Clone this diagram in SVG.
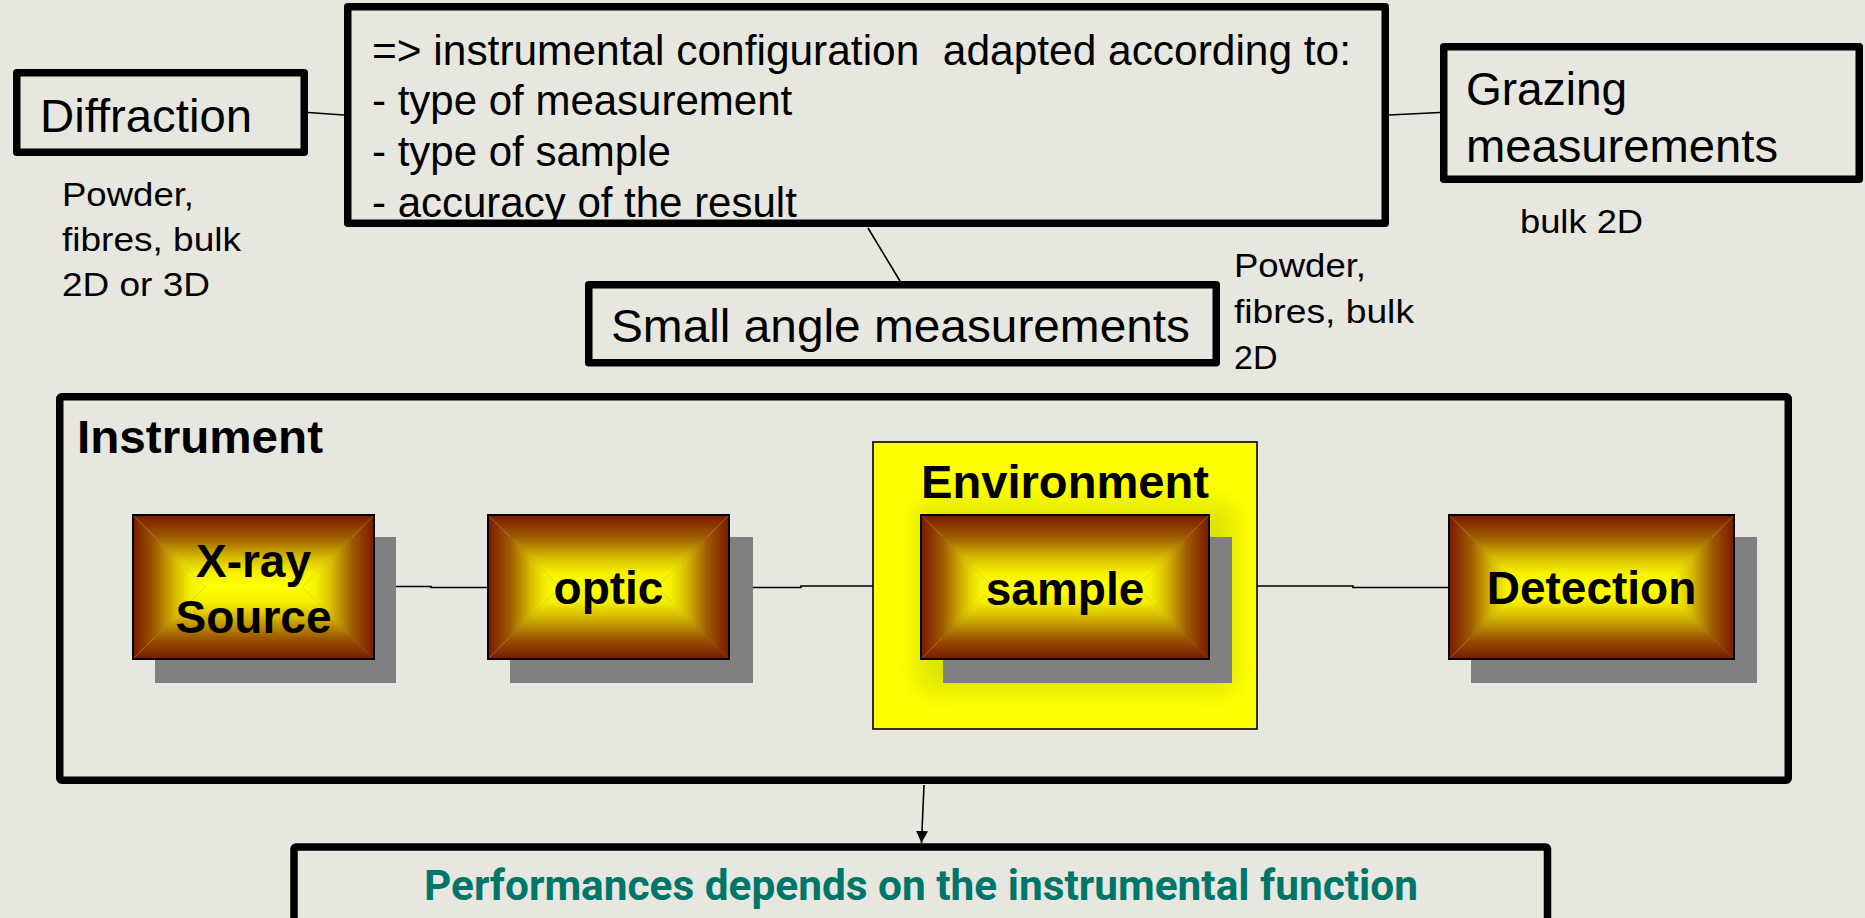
<svg xmlns="http://www.w3.org/2000/svg" width="1865" height="918" viewBox="0 0 1865 918">
<defs>
<style>
.frame{fill:none;stroke:#000;stroke-width:7.5;stroke-linejoin:round}
.t{font-family:"Liberation Sans",Arial,sans-serif;fill:#000}
.big{font-size:46px}
.mid{font-size:42px}
.small{font-size:34px}
.bold{font-family:"Liberation Sans",Arial,sans-serif;font-weight:bold;font-size:46px;fill:#000;text-anchor:middle}
.conn{fill:none;stroke:#000;stroke-width:1.6}
.shadow{fill:#808080}
.edge{fill:none;stroke:#000;stroke-width:2}
</style>
<linearGradient id="gT" x1="0" y1="0" x2="0" y2="1">
<stop offset="0" stop-color="#7A1800"/><stop offset="0.3" stop-color="#9E5A00"/><stop offset="0.6" stop-color="#D8BE00"/><stop offset="0.8" stop-color="#F6F000"/><stop offset="1" stop-color="#FFFF00"/>
</linearGradient>
<linearGradient id="gB" x1="0" y1="1" x2="0" y2="0">
<stop offset="0" stop-color="#7A1800"/><stop offset="0.3" stop-color="#9E5A00"/><stop offset="0.6" stop-color="#D8BE00"/><stop offset="0.8" stop-color="#F6F000"/><stop offset="1" stop-color="#FFFF00"/>
</linearGradient>
<linearGradient id="gL" x1="0" y1="0" x2="1" y2="0">
<stop offset="0" stop-color="#7A1800"/><stop offset="0.3" stop-color="#9E5A00"/><stop offset="0.6" stop-color="#D8BE00"/><stop offset="0.8" stop-color="#F6F000"/><stop offset="1" stop-color="#FFFF00"/>
</linearGradient>
<linearGradient id="gR" x1="1" y1="0" x2="0" y2="0">
<stop offset="0" stop-color="#7A1800"/><stop offset="0.3" stop-color="#9E5A00"/><stop offset="0.6" stop-color="#D8BE00"/><stop offset="0.8" stop-color="#F6F000"/><stop offset="1" stop-color="#FFFF00"/>
</linearGradient>
<filter id="blur" x="-30%" y="-30%" width="160%" height="160%"><feGaussianBlur stdDeviation="14"/></filter>
<clipPath id="envclip"><rect x="873" y="442" width="384" height="287"/></clipPath>
<marker id="arrow" viewBox="0 0 10 10" refX="10" refY="5" markerWidth="12" markerHeight="12" markerUnits="userSpaceOnUse" orient="auto">
<path d="M0,0 L10,5 L0,10 Z" fill="#000"/>
</marker>
</defs>
<rect width="1865" height="918" fill="#E7E6DF"/>

<g id="connectors">
<line class="conn" x1="308" y1="112.5" x2="344" y2="115"/>
<line class="conn" x1="1389" y1="115" x2="1440" y2="112.5"/>
<line class="conn" x1="868" y1="228" x2="900" y2="281"/>
<polyline class="conn" points="374,586.5 431,586.5 431,587.5 488,587.5"/>
<polyline class="conn" points="729,587.5 801,587.5 801,586 873,586"/>
<polyline class="conn" points="1257,586 1353,586 1353,587.5 1449,587.5"/>
<line class="conn" x1="924" y1="785" x2="921.5" y2="843" stroke-width="2" marker-end="url(#arrow)"/>
</g>

<g id="diffraction">
<rect class="frame" x="16.75" y="72.75" width="287.5" height="79.5"/>
<text class="t big" x="40" y="132" textLength="212" lengthAdjust="spacingAndGlyphs">Diffraction</text>
</g>

<g id="diffraction-samples">
<text class="t small" x="62" y="206" textLength="132" lengthAdjust="spacingAndGlyphs">Powder,</text>
<text class="t small" x="62" y="251" textLength="179" lengthAdjust="spacingAndGlyphs">fibres, bulk</text>
<text class="t small" x="62" y="296" textLength="148" lengthAdjust="spacingAndGlyphs">2D or 3D</text>
</g>

<g id="configuration">
<text class="t mid" x="372" y="65" textLength="979" lengthAdjust="spacingAndGlyphs" xml:space="preserve">=&gt; instrumental configuration  adapted according to:</text>
<text class="t mid" x="372" y="115">- type of measurement</text>
<text class="t mid" x="372" y="166">- type of sample</text>
<text class="t mid" x="372" y="217">- accuracy of the result</text>
<rect class="frame" x="347.75" y="6.75" width="1037.5" height="216.5"/>
</g>

<g id="grazing">
<rect class="frame" x="1443.75" y="46.75" width="415.5" height="132.5"/>
<text class="t big" x="1466" y="105">Grazing</text>
<text class="t big" x="1466" y="162" textLength="312" lengthAdjust="spacingAndGlyphs">measurements</text>
</g>

<g id="grazing-samples">
<text class="t small" x="1520" y="233" textLength="123" lengthAdjust="spacingAndGlyphs">bulk 2D</text>
</g>

<g id="small-angle">
<rect class="frame" x="588.75" y="284.75" width="627.5" height="78"/>
<text class="t big" x="611" y="342" textLength="579" lengthAdjust="spacingAndGlyphs">Small angle measurements</text>
</g>

<g id="small-angle-samples">
<text class="t small" x="1234" y="277" textLength="132" lengthAdjust="spacingAndGlyphs">Powder,</text>
<text class="t small" x="1234" y="323" textLength="180" lengthAdjust="spacingAndGlyphs">fibres, bulk</text>
<text class="t small" x="1234" y="369">2D</text>
</g>

<g id="instrument">
<rect class="frame" x="59.75" y="396.75" width="1728.5" height="383.5" rx="2"/>
<text class="t" x="77" y="453" font-weight="bold" font-size="46" textLength="246" lengthAdjust="spacingAndGlyphs">Instrument</text>
</g>

<g id="xray-source">
<rect class="shadow" x="155" y="537" width="241" height="146"/>
<path fill="url(#gT)" d="M133,515 L374,515 L302,587 L205,587 Z"/>
<path fill="url(#gB)" d="M133,659 L374,659 L302,587 L205,587 Z"/>
<path fill="url(#gL)" d="M133,515 L205,587 L133,659 Z"/>
<path fill="url(#gR)" d="M374,515 L302,587 L374,659 Z"/>
<rect class="edge" x="133" y="515" width="241" height="144"/>
<text class="bold" x="253.5" y="577">X-ray</text>
<text class="bold" x="253.5" y="633">Source</text>
</g>

<g id="optic">
<rect class="shadow" x="510" y="537" width="243" height="146"/>
<path fill="url(#gT)" d="M488,515 L729,515 L657,587 L560,587 Z"/>
<path fill="url(#gB)" d="M488,659 L729,659 L657,587 L560,587 Z"/>
<path fill="url(#gL)" d="M488,515 L560,587 L488,659 Z"/>
<path fill="url(#gR)" d="M729,515 L657,587 L729,659 Z"/>
<rect class="edge" x="488" y="515" width="241" height="144"/>
<text class="bold" x="608.5" y="604">optic</text>
</g>

<g id="environment">
<rect x="873" y="442" width="384" height="287" fill="#FFFF00" stroke="#000" stroke-width="1.6"/>
<g clip-path="url(#envclip)">
<rect x="918" y="505" width="316" height="185" fill="#B4C400" opacity="0.5" filter="url(#blur)"/>
</g>
<text class="bold" x="1065" y="498" textLength="288" lengthAdjust="spacingAndGlyphs">Environment</text>
</g>

<g id="sample">
<rect class="shadow" x="943" y="537" width="289" height="146"/>
<path fill="url(#gT)" d="M921,515 L1209,515 L1137,587 L993,587 Z"/>
<path fill="url(#gB)" d="M921,659 L1209,659 L1137,587 L993,587 Z"/>
<path fill="url(#gL)" d="M921,515 L993,587 L921,659 Z"/>
<path fill="url(#gR)" d="M1209,515 L1137,587 L1209,659 Z"/>
<rect class="edge" x="921" y="515" width="288" height="144"/>
<text class="bold" x="1065" y="605">sample</text>
</g>

<g id="detection">
<rect class="shadow" x="1471" y="537" width="286" height="146"/>
<path fill="url(#gT)" d="M1449,515 L1734,515 L1662,587 L1521,587 Z"/>
<path fill="url(#gB)" d="M1449,659 L1734,659 L1662,587 L1521,587 Z"/>
<path fill="url(#gL)" d="M1449,515 L1521,587 L1449,659 Z"/>
<path fill="url(#gR)" d="M1734,515 L1662,587 L1734,659 Z"/>
<rect class="edge" x="1449" y="515" width="285" height="144"/>
<text class="bold" x="1591.5" y="604">Detection</text>
</g>

<g id="performances">
<rect class="frame" x="294" y="847" width="1253.5" height="100" rx="2"/>
<text x="921" y="900" text-anchor="middle" font-family="Roboto,'Liberation Sans',sans-serif" font-weight="bold" font-size="42" fill="#00766A" textLength="994" lengthAdjust="spacingAndGlyphs">Performances depends on the instrumental function</text>
</g>
</svg>
